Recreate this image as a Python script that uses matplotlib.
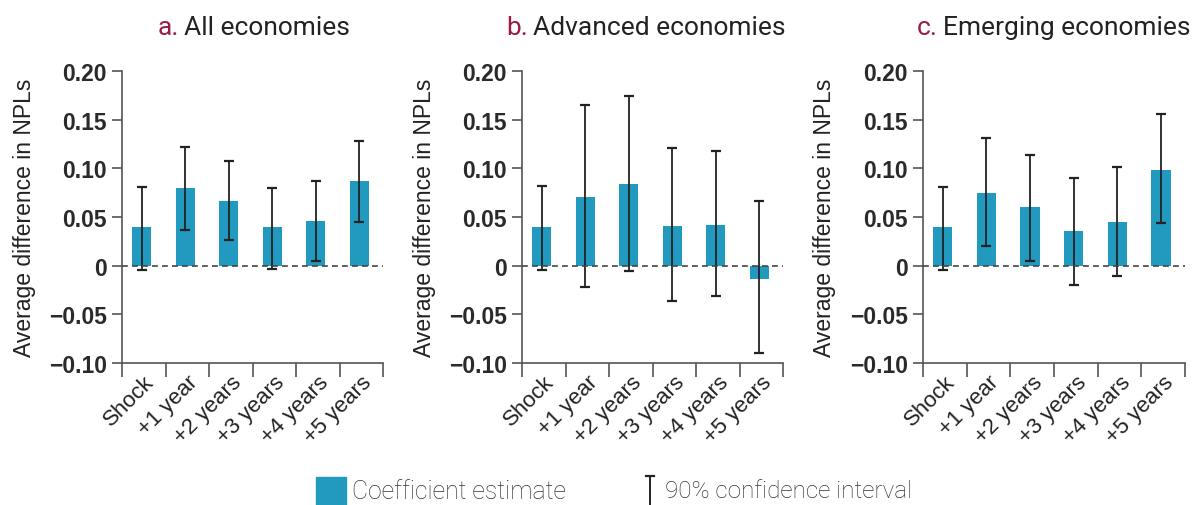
import numpy as np
import matplotlib.pyplot as plt
from matplotlib.patches import Rectangle
from matplotlib.lines import Line2D

plt.rcParams['font.family'] = ['Roboto', 'DejaVu Sans']
ARIAL = ['Liberation Sans', 'DejaVu Sans']

# Data
categories = ['Shock', '+1 year', '+2 years', '+3 years', '+4 years', '+5 years']
panel_letters = ['a.', 'b.', 'c.']
panel_titles = ['All economies', 'Advanced economies', 'Emerging economies']

all_coef = [0.040, 0.080, 0.066, 0.040, 0.046, 0.087]
all_low = [-0.0045, 0.037, 0.026, -0.003, 0.0045, 0.045]
all_high = [0.081, 0.122, 0.108, 0.080, 0.087, 0.128]

adv_coef = [0.040, 0.0705, 0.084, 0.041, 0.042, -0.0134]
adv_low = [-0.0045, -0.022, -0.0055, -0.0366, -0.031, -0.0897]
adv_high = [0.082, 0.165, 0.174, 0.1205, 0.118, 0.066]

emg_coef = [0.040, 0.0747, 0.060, 0.0356, 0.045, 0.098]
emg_low = [-0.0045, 0.020, 0.0045, -0.020, -0.011, 0.044]
emg_high = [0.081, 0.131, 0.114, 0.090, 0.101, 0.156]

yticks = [0.20, 0.15, 0.10, 0.05, 0, -0.05, -0.10]
ytick_labels = ['0.20', '0.15', '0.10', '0.05', '0', '\u22120.05', '\u22120.10']

bar_color = '#229ac0'
err_color = '#222222'
spine_color = '#555555'
letter_color = '#9b1b46'
text_color = '#222222'

W, H = 1193, 506
fig = plt.figure(figsize=(W / 100, H / 100), dpi=100)

# axes positions in pixels: left, right
ax_px = [(122, 383), (522, 783), (923, 1185)]
title_x = [158, 506, 917]
top_px, bottom_px = 72, 364

series = [(all_coef, all_low, all_high),
          (adv_coef, adv_low, adv_high),
          (emg_coef, emg_low, emg_high)]

x = np.arange(len(categories))
for i, (coef, low, high) in enumerate(series):
    l, r = ax_px[i]
    ax = fig.add_axes([l / W, 1 - bottom_px / H, (r - l) / W, (bottom_px - top_px) / H])
    coef = np.array(coef)
    yerr = [coef - np.array(low), np.array(high) - coef]
    ax.bar(x - 0.05, coef, width=0.44, color=bar_color, zorder=2)
    ax.errorbar(x - 0.05, coef, yerr=yerr, fmt='none', ecolor=err_color, elinewidth=1.3,
                capsize=3.5, capthick=1.6, zorder=3)
    ax.axhline(0, color='#444444', lw=1.2, ls=(0, (3.5, 2.5)), zorder=4)
    ax.set_xlim(-0.5, 5.5)
    ax.set_ylim(-0.10, 0.20)
    ax.set_yticks(yticks)
    ax.set_yticklabels(ytick_labels, fontsize=16.5, fontweight='bold', color='#2a2a2a',
                       family=ARIAL)
    ax.set_xticks(x)
    ax.set_xticklabels(categories, rotation=45, ha='right', rotation_mode='anchor',
                       fontsize=16, color=text_color, family=ARIAL)
    ax.set_xticks(np.arange(-0.5, 6.0, 1.0), minor=True)
    ax.tick_params(axis='x', which='major', length=0, pad=6)
    ax.tick_params(axis='x', which='minor', length=10, width=1.2, color=spine_color)
    ax.tick_params(axis='y', length=7, width=1.2, color=spine_color, pad=4)
    for s in ['top', 'right']:
        ax.spines[s].set_visible(False)
    for s in ['left', 'bottom']:
        ax.spines[s].set_color(spine_color)
        ax.spines[s].set_linewidth(1.2)
    ax.set_ylabel('Average difference in NPLs', fontsize=16.5, color=text_color,
                  family=ARIAL, va='center')
    ax.yaxis.set_label_coords(-0.375, 0.5)

    t = fig.text(title_x[i] / W, 1 - 35 / H, panel_letters[i], fontsize=19,
                 color=letter_color, ha='left', va='baseline')
    fig.canvas.draw()
    bb = t.get_window_extent()
    fig.text(bb.x1 / W + 5 / W, 1 - 35 / H, panel_titles[i], fontsize=19,
             color=text_color, ha='left', va='baseline')

# legend drawn at bottom
fig.patches.append(Rectangle((316 / W, 0), 30 / W, 28 / H, transform=fig.transFigure,
                             color=bar_color, figure=fig))
fig.text(352 / W, 1 - 492 / H, 'Coefficient estimate', fontsize=17.8, fontweight='light',
         color='#333333', ha='left', va='center')
fig.lines.append(Line2D([650 / W, 650 / W], [0, 29 / H], transform=fig.transFigure,
                        color=err_color, lw=1.4, figure=fig))
fig.lines.append(Line2D([646 / W, 654 / W], [29 / H, 29 / H], transform=fig.transFigure,
                        color=err_color, lw=1.6, figure=fig))
fig.text(665 / W, 1 - 492 / H, '90% confidence interval', fontsize=17.5, fontweight='light',
         color='#333333', ha='left', va='center')

fig.savefig('out.png', dpi=100)
